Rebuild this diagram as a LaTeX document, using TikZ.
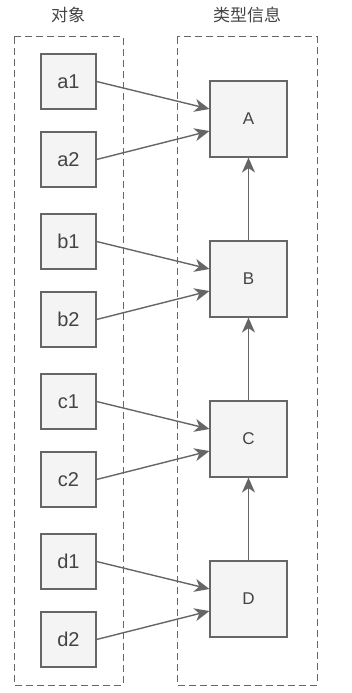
\documentclass[tikz,border=0pt]{standalone}
\usepackage{fontspec}
\setmainfont{Liberation Sans}
\newfontfamily\cjk{Noto Sans CJK SC}
\usetikzlibrary{arrows.meta}
\definecolor{linegray}{HTML}{666666}
\definecolor{fillgray}{HTML}{F4F4F4}
\definecolor{textgray}{HTML}{444444}
\begin{document}
\begin{tikzpicture}[x=1pt,y=-1pt,
  objbox/.style={draw=linegray,fill=fillgray,line width=1.1pt,minimum width=55pt,minimum height=55pt,inner sep=0pt,font=\fontsize{20}{20}\selectfont,text=textgray},
  typebox/.style={draw=linegray,fill=fillgray,line width=1.1pt,minimum width=77pt,minimum height=76pt,inner sep=0pt,font=\fontsize{17}{17}\selectfont,text=textgray},
  group/.style={draw=linegray,dashed,dash pattern=on 7pt off 4pt,line width=1pt},
  conn/.style={draw=linegray,line width=1.4pt,-{Stealth[length=15pt,width=13pt,inset=4.5pt]}},
  title/.style={font=\cjk\fontsize{17}{17}\selectfont,text=textgray}
]
\useasboundingbox (0,0) rectangle (351,693);
\draw[group] (14,37) rectangle (123,685);
\draw[group] (177,37) rectangle (317,685);
\node[title] (t1) at (68,15) {对象};
\node[title] (t2) at (247,15) {类型信息};
\foreach \n/\y in {a/0,b/160,c/320,d/480}{
  \node[objbox] (\n1) at (68.5,81.5+\y) {\n1};
  \node[objbox] (\n2) at (68.5,159.5+\y) {\n2};
}
\node[typebox] (A) at (248.5,119) {A};
\node[typebox] (B) at (248.5,279) {B};
\node[typebox] (C) at (248.5,439) {C};
\node[typebox] (D) at (248.5,599) {D};
\foreach \n/\N in {a/A,b/B,c/C,d/D}{
  \draw[conn] (\n1.east) -- ([yshift=10pt]\N.west);
  \draw[conn] (\n2.east) -- ([yshift=-12pt]\N.west);
}
\draw[conn] (B.north) -- (A.south);
\draw[conn] (C.north) -- (B.south);
\draw[conn] (D.north) -- (C.south);
\end{tikzpicture}
\end{document}
